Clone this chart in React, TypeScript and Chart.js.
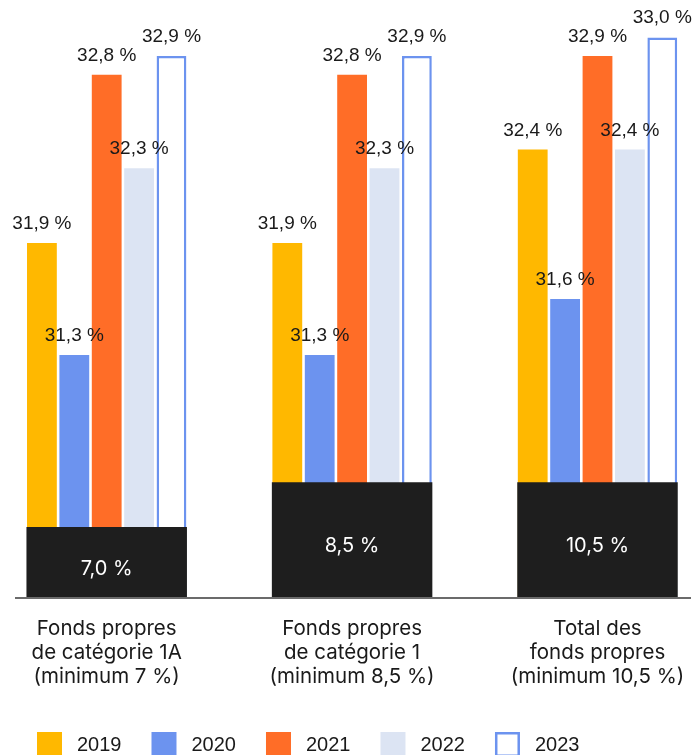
import React, { useEffect, useRef } from 'react';
import { Chart, registerables } from 'chart.js';

Chart.register(...registerables);

// ---- data ----
const categories: string[][] = [
  ['Fonds propres', 'de catégorie 1A', '(minimum 7 %)'],
  ['Fonds propres', 'de catégorie 1', '(minimum 8,5 %)'],
  ['Total des', 'fonds propres', '(minimum 10,5 %)'],
];
const years = ['2019', '2020', '2021', '2022', '2023'];
const values2019 = [31.9, 31.9, 32.4];
const values2020 = [31.3, 31.3, 31.6];
const values2021 = [32.8, 32.8, 32.9];
const values2022 = [32.3, 32.3, 32.4];
const values2023 = [32.9, 32.9, 33.0];
const minimumLabels = ['7,0 %', '8,5 %', '10,5 %'];
// height of the black "minimum" blocks on the (broken) axis
const minimumBlockTop = [30.38, 30.62, 30.62];
const axisMin = 30;
const axisMax = 33.2;

const seriesValues = [values2019, values2020, values2021, values2022, values2023];
const fillColors = ['#FFB800', '#6C93EF', '#FF6D27', '#DCE4F3', '#FFFFFF'];
const strokeColors = ['#FFB800', '#6C93EF', '#FF6D27', '#DCE4F3', '#6C93EF'];
const blockColor = '#1E1E1E';
const textColor = '#1A1A1A';

const fmt = (v: number) => v.toFixed(1).replace('.', ',') + ' %';

const annotatePlugin = {
  id: 'annotate',
  afterDatasetsDraw(chart: any) {
    const ctx = chart.ctx as CanvasRenderingContext2D;
    ctx.save();
    // baseline
    const y0 = chart.scales.y.getPixelForValue(axisMin);
    ctx.strokeStyle = '#6B6B6B';
    ctx.lineWidth = 2;
    ctx.beginPath();
    ctx.moveTo(15, y0);
    ctx.lineTo(691, y0);
    ctx.stroke();

    chart.data.datasets.forEach((ds: any, di: number) => {
      const meta = chart.getDatasetMeta(di);
      meta.data.forEach((bar: any, i: number) => {
        if (ds.isMinimum) {
          ctx.fillStyle = '#FFFFFF';
          ctx.font = '20px Inter';
          ctx.textAlign = 'center';
          ctx.textBaseline = 'middle';
          ctx.fillText(minimumLabels[i], bar.x, (bar.y + bar.base) / 2 + 6);
        } else {
          ctx.fillStyle = textColor;
          ctx.font = '19px "Liberation Sans"';
          ctx.textAlign = 'center';
          ctx.textBaseline = 'alphabetic';
          ctx.fillText(fmt(ds.data[i]), bar.x, bar.y - 14);
        }
      });
    });

    // legend
    const legendTop = 732;
    const box = 25;
    let x = 37;
    ctx.font = '20px "Liberation Sans"';
    ctx.textAlign = 'left';
    ctx.textBaseline = 'alphabetic';
    years.forEach((yr, i) => {
      if (i === 4) {
        ctx.fillStyle = '#FFFFFF';
        ctx.fillRect(x, legendTop, box, box);
        ctx.strokeStyle = strokeColors[i];
        ctx.lineWidth = 2.5;
        ctx.strokeRect(x + 1.25, legendTop + 1.25, box - 2.5, box - 2.5);
      } else {
        ctx.fillStyle = fillColors[i];
        ctx.fillRect(x, legendTop, box, box);
      }
      ctx.fillStyle = textColor;
      const tx = x + box + 15;
      ctx.fillText(yr, tx, 751);
      x = tx + ctx.measureText(yr).width + 30;
    });
    ctx.restore();
  },
};

export default function App() {
  const ref = useRef<HTMLCanvasElement | null>(null);

  useEffect(() => {
    document.body.style.margin = '0';
    if (!ref.current) return;
    const yearSets = years.map((yr, i) => ({
      label: yr,
      data: seriesValues[i],
      base: axisMin,
      backgroundColor: fillColors[i],
      borderColor: strokeColors[i],
      borderWidth: i === 4 ? 2.5 : 0,
      borderSkipped: i === 4 ? 'start' : false,
      categoryPercentage: 0.66,
      barPercentage: 0.92,
      clip: false,
    }));
    const chart = new Chart(ref.current, {
      type: 'bar',
      data: {
        labels: categories,
        datasets: [
          {
            label: 'minimum',
            isMinimum: true,
            data: minimumBlockTop,
            base: axisMin,
            backgroundColor: blockColor,
            borderWidth: 0,
            grouped: false,
            categoryPercentage: 0.654,
            barPercentage: 1,
            clip: false,
          } as any,
          ...yearSets,
        ],
      },
      options: {
        responsive: false,
        animation: false,
        devicePixelRatio: 1,
        layout: { padding: { left: 106.7, right: 96.5, top: 0, bottom: 0 } },
        plugins: {
          legend: { display: false },
          tooltip: { enabled: false },
        },
        scales: {
          x: {
            offset: false,
            grid: { display: false, drawTicks: false },
            border: { display: false },
            ticks: {
              color: textColor,
              font: { family: 'Inter', size: 20.5, lineHeight: 1.16 },
              padding: 19,
              maxRotation: 0,
              autoSkip: false,
            },
            afterFit: (scale: any) => {
              scale.height = 157;
              scale.paddingLeft = 0;
              scale.paddingRight = 0;
            },
          },
          y: {
            display: false,
            min: axisMin,
            max: axisMax,
          },
        },
      } as any,
      plugins: [annotatePlugin],
    });
    return () => chart.destroy();
  }, []);

  return (
    <div style={{ width: 694, height: 755 }}>
      <canvas ref={ref} width={694} height={755} style={{ display: 'block' }} />
    </div>
  );
}
